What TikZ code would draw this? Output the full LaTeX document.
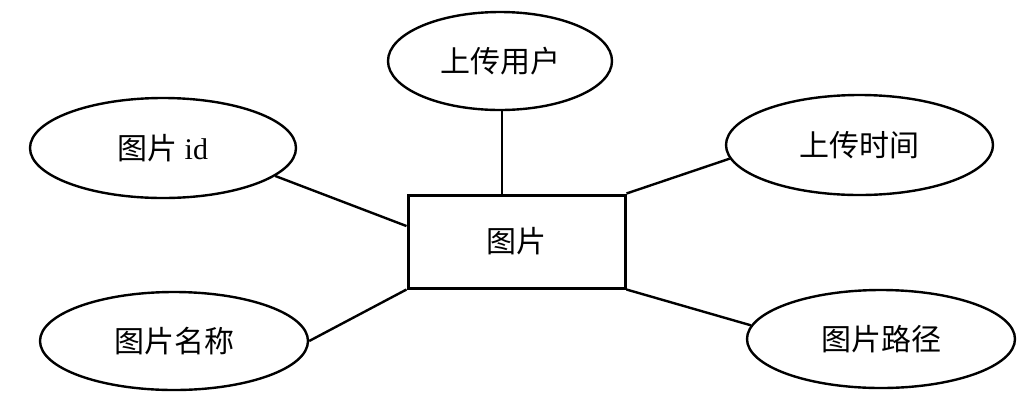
\documentclass[tikz,border=0pt]{standalone}
\usepackage{fontspec}
\setmainfont{Liberation Serif}
\newfontfamily\cjk{Noto Sans CJK SC}
\usetikzlibrary{shapes.geometric}
\begin{document}
\begin{tikzpicture}[x=1pt,y=-1pt,
  attr/.style={draw,ellipse,line width=2.4pt,inner sep=0pt,font=\fontsize{30}{36}\selectfont\cjk},
  ent/.style={draw,rectangle,line width=3pt,inner sep=0pt,minimum width=217pt,minimum height=93pt,font=\fontsize{30}{36}\selectfont\cjk},
  link/.style={line width=2.4pt}]
\useasboundingbox (0,0) rectangle (1030,400);
\node[ent] (r) at (516.5,241.5) {图片};
\node[attr,minimum width=224pt,minimum height=98pt] (u) at (500,61) {上传用户};
\node[attr,minimum width=266pt,minimum height=100pt] (i) at (163,148) {图片 {\rmfamily id}};
\node[attr,minimum width=267pt,minimum height=100pt] (t) at (859.5,145) {上传时间};
\node[attr,minimum width=268pt,minimum height=98pt] (n) at (174,341) {图片名称};
\node[attr,minimum width=268pt,minimum height=98pt] (p) at (881,339) {图片路径};
\draw[link] ([xshift=2pt]u.south) -- ([xshift=2pt]u.south |- r.north);
\draw[link] (i.-14) -- (r.172);
\draw[link] (t.186) -- (r.north east);
\draw[link] (n.east) -- (r.south west);
\draw[link] (p.174) -- (r.south east);
\end{tikzpicture}
\end{document}
